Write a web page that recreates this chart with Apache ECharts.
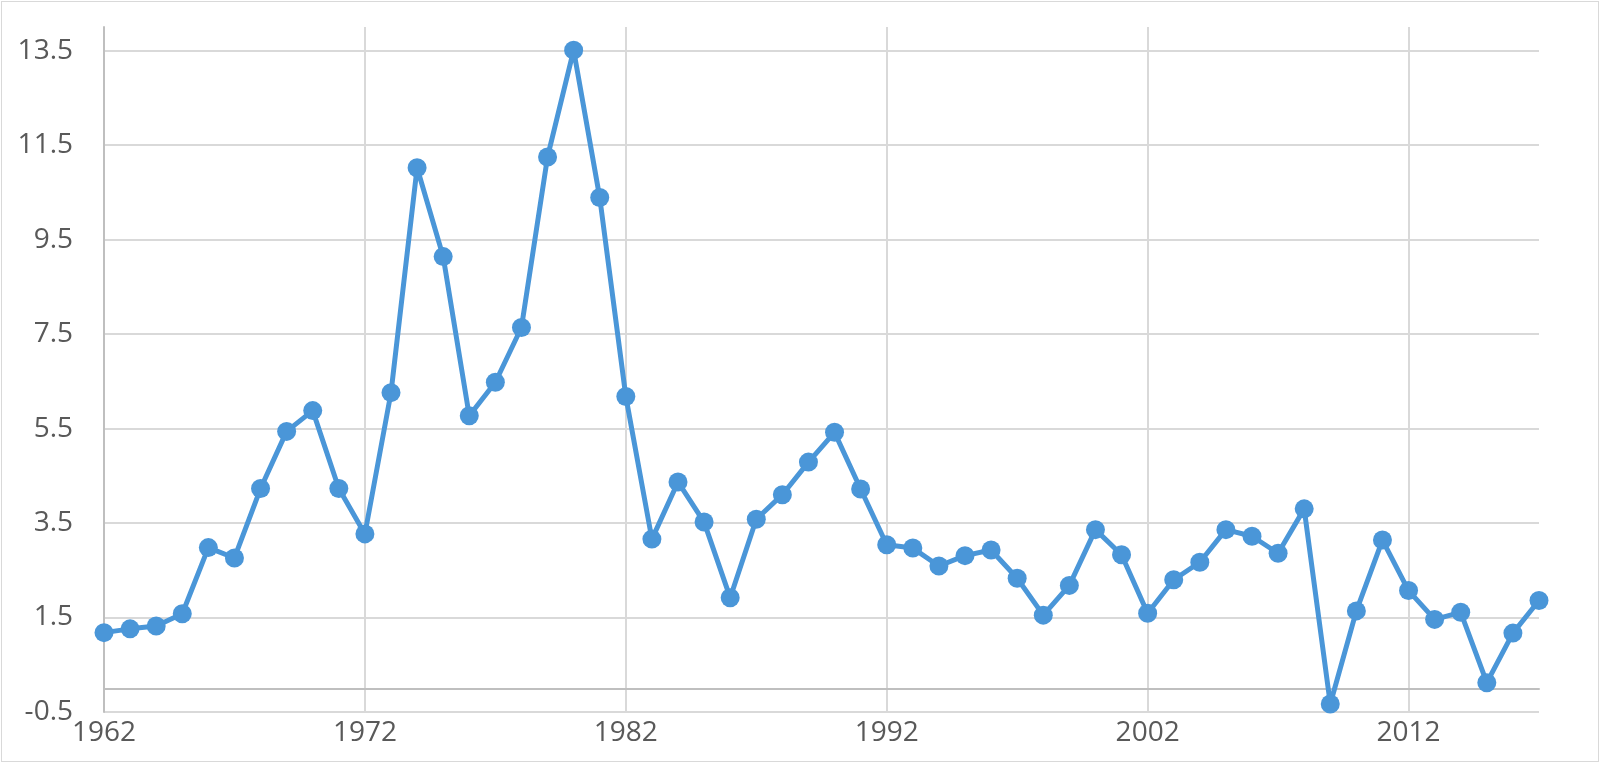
<!DOCTYPE html>
<html>
<head>
<meta charset="utf-8">
<script src="https://cdn.jsdelivr.net/npm/echarts@6/dist/echarts.min.js"></script>
<style>
html,body{margin:0;padding:0;background:#fff;}
#wrap{position:relative;width:1600px;height:763px;}
#chart{position:absolute;left:0;top:0;width:1600px;height:763px;}
#frame{position:absolute;left:1px;top:1px;width:1596px;height:759px;border:1px solid #d9d9d9;pointer-events:none;}
</style>
</head>
<body>
<div id="wrap"><div id="chart"></div><div id="frame"></div></div>
<script>
const years = [1962,1963,1964,1965,1966,1967,1968,1969,1970,1971,1972,1973,1974,1975,1976,1977,1978,1979,1980,1981,1982,1983,1984,1985,1986,1987,1988,1989,1990,1991,1992,1993,1994,1995,1996,1997,1998,1999,2000,2001,2002,2003,2004,2005,2006,2007,2008,2009,2010,2011,2012,2013,2014,2015,2016,2017];
const values = [1.18,1.26,1.32,1.58,2.98,2.76,4.23,5.44,5.88,4.23,3.27,6.26,11.02,9.14,5.77,6.48,7.64,11.25,13.51,10.39,6.18,3.16,4.37,3.52,1.92,3.58,4.10,4.79,5.42,4.22,3.04,2.97,2.59,2.81,2.93,2.33,1.55,2.18,3.36,2.83,1.59,2.30,2.67,3.36,3.22,2.86,3.80,-0.33,1.64,3.14,2.07,1.46,1.61,0.12,1.17,1.86];
const xTicks = [1962,1972,1982,1992,2002,2012];
const yTicks = [-0.5,1.5,3.5,5.5,7.5,9.5,11.5,13.5];

const chart = echarts.init(document.getElementById('chart'), null, {renderer:'canvas'});
const font = '"Open Sans", "Liberation Sans", sans-serif';
chart.setOption({
  animation:false,
  backgroundColor:'#ffffff',
  grid:{left:104,right:61,top:27,bottom:51,containLabel:false},
  xAxis:[{
    type:'value', min:1962, max:2017, position:'bottom',
    axisLine:{show:false, onZero:false},
    axisTick:{show:false, customValues:xTicks},
    axisLabel:{show:true, customValues:xTicks, color:'#595959', fontSize:28, fontFamily:font, margin:7,
      formatter:v=>String(v)},
    splitLine:{show:true, lineStyle:{color:'#d9d9d9', width:2}}
  },{
    type:'value', min:1962, max:2017, position:'top',
    axisLine:{show:true, onZero:true, lineStyle:{color:'#bfbfbf', width:2}},
    axisTick:{show:false}, axisLabel:{show:false}, splitLine:{show:false}
  }],
  yAxis:{
    type:'value', min:-0.5, max:14,
    axisLine:{show:true, onZero:false, lineStyle:{color:'#bfbfbf', width:2}},
    axisTick:{show:false, customValues:yTicks},
    axisLabel:{show:true, customValues:yTicks, color:'#595959', fontSize:28, fontFamily:font, margin:31,
      formatter:v=>v.toFixed(1)},
    splitLine:{show:true, lineStyle:{color:'#d9d9d9', width:2}}
  },
  series:[{
    type:'line', xAxisIndex:0,
    data: years.map((y,i)=>[y, values[i]]),
    symbol:'circle', symbolSize:19, showSymbol:true,
    lineStyle:{color:'#4a96d8', width:5},
    itemStyle:{color:'#4a96d8'},
    z:5
  }]
});
</script>
</body>
</html>
